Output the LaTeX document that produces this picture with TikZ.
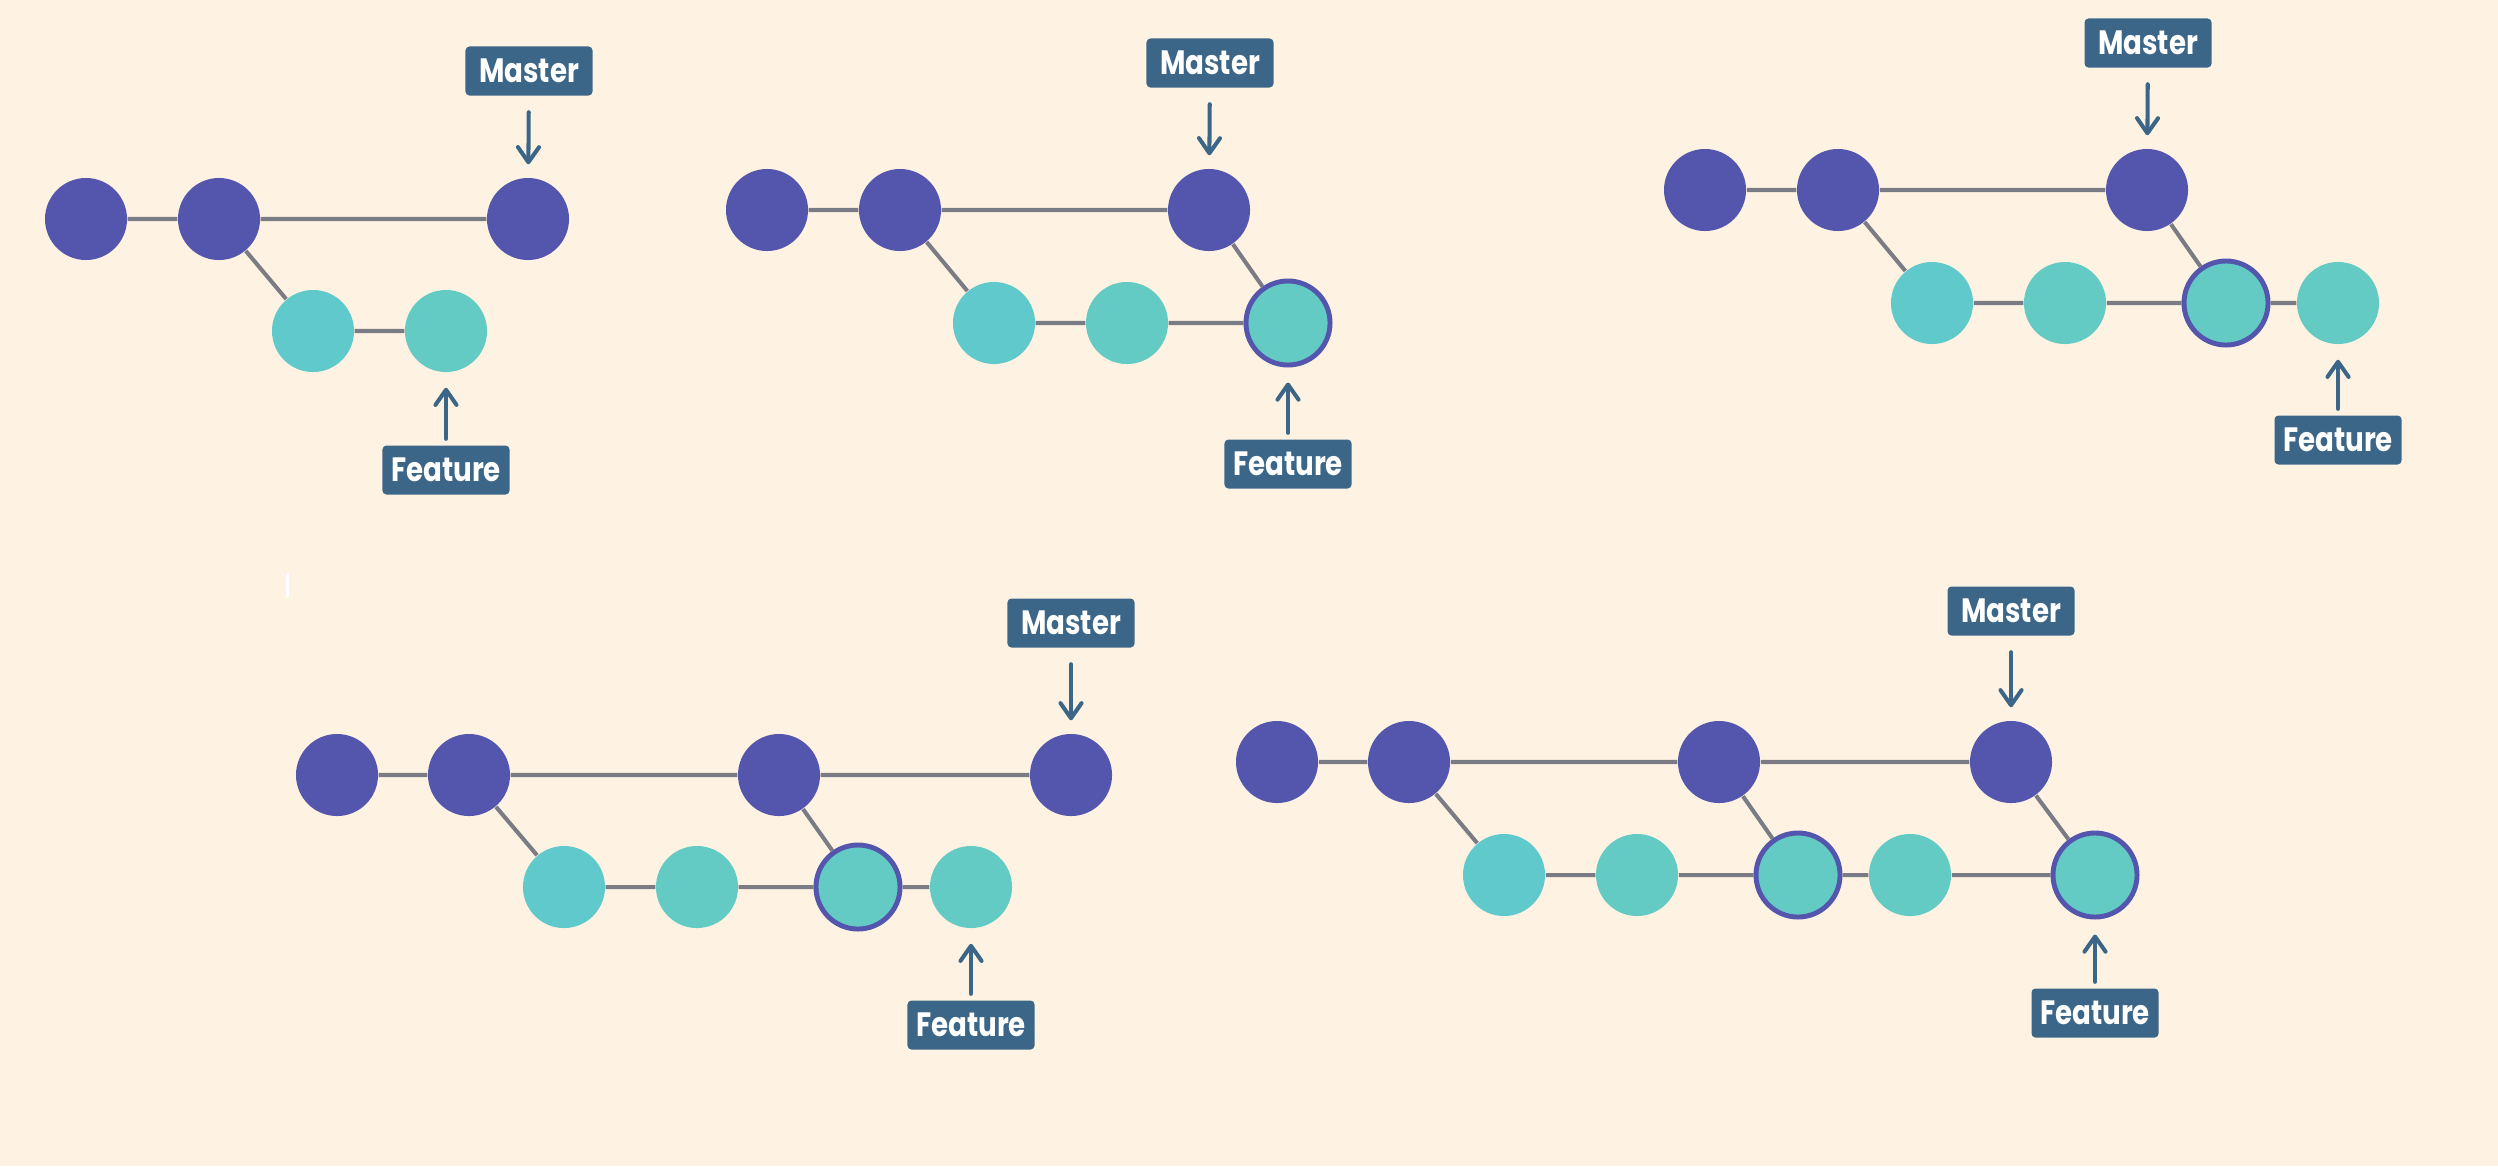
\documentclass[tikz,border=0pt]{standalone}
\usepackage{fontspec}
\setmainfont{Poppins}
\newfontfamily\tagfont{Poppins}[FakeStretch=0.82]
\usetikzlibrary{arrows.meta}
\definecolor{paper}{HTML}{FEF3E2}
\definecolor{mastc}{HTML}{5456AE}
\definecolor{feata}{HTML}{5FC9CC}
\definecolor{featc}{HTML}{63CAC4}
\definecolor{linkc}{HTML}{7A7B85}
\definecolor{tagc}{HTML}{3B6688}

\begin{document}
\begin{tikzpicture}[x=0.01cm,y=-0.01cm,
  mc/.style={circle,fill=mastc,minimum size=0.82cm,inner sep=0pt},
  fa/.style={circle,fill=feata,minimum size=0.82cm,inner sep=0pt},
  fc/.style={circle,fill=featc,minimum size=0.82cm,inner sep=0pt},
  fm/.style={fc,draw=mastc,line width=1.4pt,minimum size=0.84cm},
  tag/.style={fill=tagc,text=white,rounded corners=0.04cm,minimum width=1.27cm,
    minimum height=0.49cm,inner sep=0pt,font=\tagfont\fontsize{9.6}{10}\selectfont\bfseries},
  link/.style={draw=linkc,line width=1.15pt},
  mptr/.style={draw=tagc,line width=1.15pt,line cap=round,
    -{Straight Barb[length=4.3pt,width=6pt,round]},shorten <=0.16cm,shorten >=0.13cm},
  fptr/.style={mptr,shorten <=0.06cm,shorten >=0.15cm}]
\fill[paper] (0,0) rectangle (2498,1166);
\useasboundingbox (0,0) rectangle (2498,1166);
\fill[white] (286,573) rectangle (289,597);

\node (m1a) [mc] at (86,219) {};
\node (m1b) [mc] at (219,219) {};
\node (m1c) [mc] at (528,219) {};
\node (f1a) [fa] at (313,331) {};
\node (f1b) [fc] at (446,331) {};
\node (mb1) [tag] at (529,71) {Master};
\node (fb1) [tag] at (446,470) {Feature};
\draw[link] (m1a) -- (m1b) -- (m1c) (m1b) -- (f1a) -- (f1b);
\draw[mptr] (mb1) -- (m1c);
\draw[fptr] (fb1) -- (f1b);

\node (m2a) [mc] at (767,210) {};
\node (m2b) [mc] at (900,210) {};
\node (m2c) [mc] at (1209,210) {};
\node (f2a) [fa] at (994,323) {};
\node (f2b) [fc] at (1127,323) {};
\node (f2c) [fm] at (1288,323) {};
\node (mb2) [tag] at (1210,63) {Master};
\node (fb2) [tag] at (1288,464) {Feature};
\draw[link] (m2a) -- (m2b) -- (m2c) (m2b) -- (f2a) -- (f2b) -- (f2c) (m2c) -- (f2c);
\draw[mptr] (mb2) -- (m2c);
\draw[fptr] (fb2) -- (f2c);

\node (m3a) [mc] at (1705,190) {};
\node (m3b) [mc] at (1838,190) {};
\node (m3c) [mc] at (2147,190) {};
\node (f3a) [fa] at (1932,303) {};
\node (f3b) [fc] at (2065,303) {};
\node (f3c) [fm] at (2226,303) {};
\node (f3d) [fc] at (2338,303) {};
\node (mb3) [tag] at (2148,43) {Master};
\node (fb3) [tag] at (2338,440) {Feature};
\draw[link] (m3a) -- (m3b) -- (m3c) (m3b) -- (f3a) -- (f3b) -- (f3c) -- (f3d)
  (m3c) -- (f3c);
\draw[mptr] (mb3) -- (m3c);
\draw[fptr] (fb3) -- (f3d);

\node (m4a) [mc] at (337,775) {};
\node (m4b) [mc] at (469,775) {};
\node (m4c) [mc] at (779,775) {};
\node (m4d) [mc] at (1071,775) {};
\node (f4a) [fa] at (564,887) {};
\node (f4b) [fc] at (697,887) {};
\node (f4c) [fm] at (858,887) {};
\node (f4d) [fc] at (971,887) {};
\node (mb4) [tag] at (1071,623) {Master};
\node (fb4) [tag] at (971,1025) {Feature};
\draw[link] (m4a) -- (m4b) -- (m4c) -- (m4d) (m4b) -- (f4a) -- (f4b) -- (f4c) -- (f4d)
  (m4c) -- (f4c);
\draw[mptr] (mb4) -- (m4d);
\draw[fptr] (fb4) -- (f4d);

\node (m5a) [mc] at (1277,762) {};
\node (m5b) [mc] at (1409,762) {};
\node (m5c) [mc] at (1719,762) {};
\node (m5d) [mc] at (2011,762) {};
\node (f5a) [fa] at (1504,875) {};
\node (f5b) [fc] at (1637,875) {};
\node (f5c) [fm] at (1798,875) {};
\node (f5d) [fc] at (1910,875) {};
\node (f5e) [fm] at (2095,875) {};
\node (mb5) [tag] at (2011,611) {Master};
\node (fb5) [tag] at (2095,1013) {Feature};
\draw[link] (m5a) -- (m5b) -- (m5c) -- (m5d) (m5b) -- (f5a) -- (f5b) -- (f5c) -- (f5d)
  -- (f5e) (m5c) -- (f5c) (m5d) -- (f5e);
\draw[mptr] (mb5) -- (m5d);
\draw[fptr] (fb5) -- (f5e);
\end{tikzpicture}
\end{document}
